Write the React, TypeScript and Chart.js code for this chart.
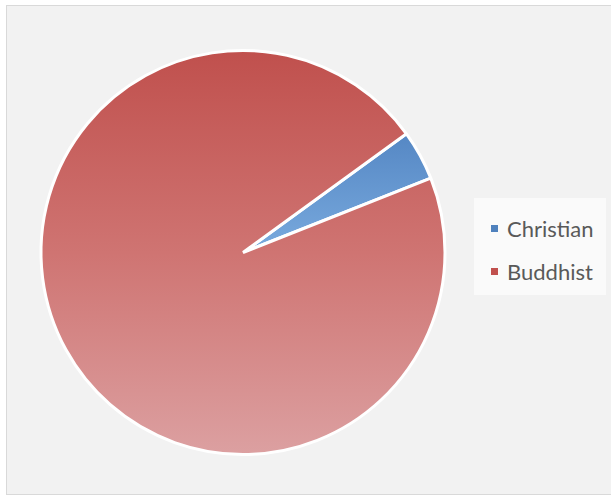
import React, { useEffect, useRef } from "react";
import { Chart, registerables } from "chart.js";

Chart.register(...registerables);

const categories = ["Christian", "Buddhist"];
const values = [4, 96];
const legendColors = ["#4f81bd", "#c0504d"];

export default function App() {
  const ref = useRef<HTMLCanvasElement | null>(null);

  useEffect(() => {
    document.body.style.margin = "0";
    const canvas = ref.current;
    if (!canvas) return;
    const makeFill = (ctx: any) => {
      const chart = ctx.chart;
      const area = chart.chartArea;
      if (!area) return legendColors[ctx.dataIndex];
      const cy = (area.top + area.bottom) / 2;
      const g = chart.ctx.createLinearGradient(0, cy - 202, 0, cy + 202);
      if (ctx.dataIndex === 0) {
        g.addColorStop(0, "#3c6fb2");
        g.addColorStop(0.5, "#79aade");
        g.addColorStop(1, "#a9c9ee");
      } else {
        g.addColorStop(0, "#c0504d");
        g.addColorStop(0.5, "#cf7472");
        g.addColorStop(1, "#dca0a1");
      }
      return g;
    };
    const chart = new Chart(canvas, {
      type: "pie",
      data: {
        labels: categories,
        datasets: [
          {
            data: values,
            backgroundColor: makeFill,
            borderColor: "#ffffff",
            borderWidth: 3,
          },
        ],
      },
      options: {
        responsive: false,
        animation: false,
        rotation: 54,
        radius: 202,
        layout: { padding: { left: 30, right: 155, top: 30, bottom: 22 } },
        plugins: {
          legend: { display: false },
          tooltip: { enabled: false },
        },
      },
    });
    return () => chart.destroy();
  }, []);

  return (
    <div
      style={{
        position: "absolute",
        left: 0,
        top: 0,
        width: 611,
        height: 497,
        background: "#ffffff",
        overflow: "hidden",
      }}
    >
      <div
        style={{
          position: "absolute",
          left: 6,
          top: 5,
          width: 610,
          height: 488,
          background: "#f2f2f2",
          border: "1px solid #d9d9d9",
        }}
      />
      <canvas
        ref={ref}
        width={611}
        height={497}
        style={{ position: "absolute", left: 0, top: 0, width: 611, height: 497 }}
      />
      <div
        style={{
          position: "absolute",
          left: 474,
          top: 198,
          width: 132,
          height: 97,
          background: "#fafafa",
          fontFamily: "Lato, 'Liberation Sans', sans-serif",
          fontSize: 22,
          color: "#595959",
        }}
      >
        {categories.map((c, i) => (
          <div
            key={c}
            style={{
              position: "absolute",
              left: 17,
              top: 17 + i * 43,
              display: "flex",
              alignItems: "center",
              whiteSpace: "nowrap",
            }}
          >
            <span
              style={{
                display: "inline-block",
                width: 7,
                height: 7,
                background: legendColors[i],
                marginRight: 9,
              }}
            />
            <span>{c}</span>
          </div>
        ))}
      </div>
    </div>
  );
}
